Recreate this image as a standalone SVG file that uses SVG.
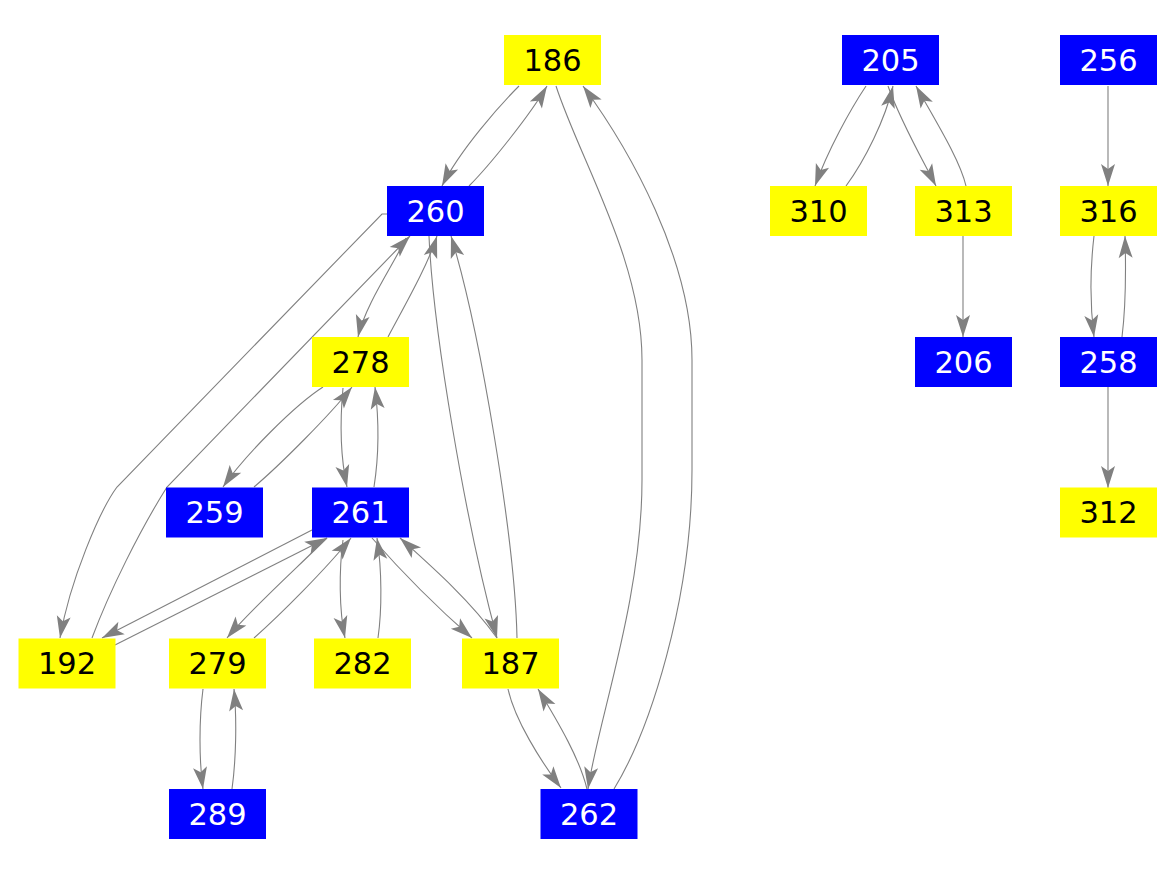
<svg xmlns="http://www.w3.org/2000/svg" width="1167" height="875" viewBox="0 0 1167 875">
<style>
.e{fill:none;stroke:#808080;stroke-width:1.1;marker-end:url(#ah)}
.y rect{fill:#ffff00}
.b rect{fill:#0000ff}
text{font-family:"DejaVu Sans","Liberation Sans",sans-serif;font-size:30.5px;text-anchor:middle}
.y text{fill:#000000}
.b text{fill:#ffffff}
</style>
<defs>
<marker id="ah" markerUnits="userSpaceOnUse" markerWidth="24" markerHeight="16" viewBox="-24 -8 24 16" refX="0" refY="0" orient="auto">
<path d="M0,0 L-22,-7 L-17,0 L-22,7 Z" fill="#808080"/>
</marker>
</defs>
<rect width="1167" height="875" fill="#ffffff"/>
<g id="edges">
<path class="e" d="M519,86 C500,105 460,150 442,186"/>
<path class="e" d="M469,186 C490,165 530,115 547,86"/>
<path class="e" d="M556,86 C580,160 642,260 642,360 L642,480 C642,600 598,720 588,789"/>
<path class="e" d="M614,789 C650,730 692,600 692,470 L692,360 C692,260 630,150 583,86"/>
<path class="e" d="M387,214 L382,214 L117,487 C100,510 70,580 60,638"/>
<path class="e" d="M92,638 C110,590 140,530 167,487 L410,236"/>
<path class="e" d="M406,238 C395,262 365,305 358,337"/>
<path class="e" d="M388,337 C405,305 428,265 437,236"/>
<path class="e" d="M429,236 C433,330 465,520 497,638"/>
<path class="e" d="M517,638 C515,540 480,330 451,236"/>
<path class="e" d="M323,387 C295,405 245,455 223,487"/>
<path class="e" d="M254,487 C280,465 330,415 352,387"/>
<path class="e" d="M343,388 C340,420 340,455 347,487"/>
<path class="e" d="M374,487 C379,455 379,420 375,387"/>
<path class="e" d="M312,530 L102,638"/>
<path class="e" d="M115,645 L327,538"/>
<path class="e" d="M327,538 C300,565 250,610 227,638"/>
<path class="e" d="M254,638 C280,615 325,570 351,538"/>
<path class="e" d="M343,540 C339,570 339,610 345,638"/>
<path class="e" d="M378,638 C382,610 382,570 377,538"/>
<path class="e" d="M372,538 C400,570 440,610 472,638"/>
<path class="e" d="M497,638 C470,600 430,565 400,538"/>
<path class="e" d="M508,689 C515,720 540,760 561,788"/>
<path class="e" d="M587,789 C580,760 560,725 538,689"/>
<path class="e" d="M203,689 C199,720 199,760 203,789"/>
<path class="e" d="M232,789 C236,760 237,720 234,689"/>
<path class="e" d="M866,86 C850,110 828,150 815,186"/>
<path class="e" d="M846,186 C865,160 885,120 893,86"/>
<path class="e" d="M888,86 C900,120 920,155 936,186"/>
<path class="e" d="M966,186 C960,160 935,120 916,86"/>
<path class="e" d="M963,236 L963,337"/>
<path class="e" d="M1108,86 L1108,186"/>
<path class="e" d="M1094,236 C1090,270 1090,305 1094,337"/>
<path class="e" d="M1122,337 C1126,305 1126,270 1125,236"/>
<path class="e" d="M1108,387 L1108,488"/>
</g>
<g id="n186" class="y"><rect x="504" y="35" width="97" height="50"/><text x="552.5" y="70.5">186</text></g>
<g id="n260" class="b"><rect x="387" y="186" width="97" height="50"/><text x="435.5" y="221.5">260</text></g>
<g id="n278" class="y"><rect x="312" y="337" width="97" height="50"/><text x="360.5" y="372.5">278</text></g>
<g id="n259" class="b"><rect x="166" y="487.5" width="97" height="50"/><text x="214.5" y="523">259</text></g>
<g id="n261" class="b"><rect x="312" y="487.5" width="97" height="50"/><text x="360.5" y="523">261</text></g>
<g id="n192" class="y"><rect x="18.5" y="638.5" width="97" height="50"/><text x="67" y="674">192</text></g>
<g id="n279" class="y"><rect x="169" y="638.5" width="97" height="50"/><text x="217.5" y="674">279</text></g>
<g id="n282" class="y"><rect x="314" y="638.5" width="97" height="50"/><text x="362.5" y="674">282</text></g>
<g id="n187" class="y"><rect x="462" y="638.5" width="97" height="50"/><text x="510.5" y="674">187</text></g>
<g id="n289" class="b"><rect x="169" y="789" width="97" height="50"/><text x="217.5" y="824.5">289</text></g>
<g id="n262" class="b"><rect x="540.5" y="789" width="97" height="50"/><text x="589" y="824.5">262</text></g>
<g id="n205" class="b"><rect x="842" y="35" width="97" height="50"/><text x="890.5" y="70.5">205</text></g>
<g id="n256" class="b"><rect x="1060" y="35" width="97" height="50"/><text x="1108.5" y="70.5">256</text></g>
<g id="n310" class="y"><rect x="770" y="186" width="97" height="50"/><text x="818.5" y="221.5">310</text></g>
<g id="n313" class="y"><rect x="915" y="186" width="97" height="50"/><text x="963.5" y="221.5">313</text></g>
<g id="n316" class="y"><rect x="1060" y="186" width="97" height="50"/><text x="1108.5" y="221.5">316</text></g>
<g id="n206" class="b"><rect x="915" y="337" width="97" height="50"/><text x="963.5" y="372.5">206</text></g>
<g id="n258" class="b"><rect x="1060" y="337" width="97" height="50"/><text x="1108.5" y="372.5">258</text></g>
<g id="n312" class="y"><rect x="1060" y="487.5" width="97" height="50"/><text x="1108.5" y="523">312</text></g>
</svg>
